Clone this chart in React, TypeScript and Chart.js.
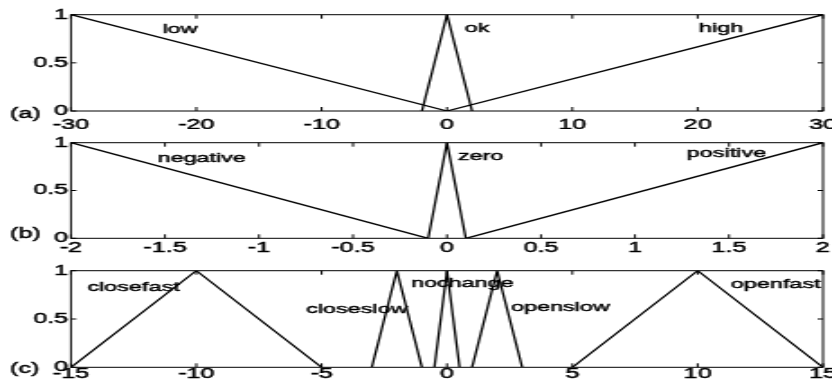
import React, { useEffect, useRef } from 'react';
import { Chart, registerables } from 'chart.js';

Chart.register(...registerables);

// ---------- Panel (a) ----------
const lowX = [-30, 0];
const lowY = [1, 0];
const okX = [-2, 0, 2];
const okY = [0, 1, 0];
const highX = [0, 30];
const highY = [0, 1];
const xTicksA = [-30, -20, -10, 0, 10, 20, 30];
const namesA = ['low', 'ok', 'high'];
const nameXA = [-22.7, 1.4, 20.1];
const nameYA = [0.81, 0.82, 0.82];

// ---------- Panel (b) ----------
const negX = [-2, -0.1];
const negY = [1, 0];
const zeroX = [-0.1, 0, 0.1];
const zeroY = [0, 1, 0];
const posX = [0.1, 2];
const posY = [0, 1];
const xTicksB = [-2, -1.5, -1, -0.5, 0, 0.5, 1, 1.5, 2];
const namesB = ['negative', 'zero', 'positive'];
const nameXB = [-1.54, 0.057, 1.275];
const nameYB = [0.8, 0.82, 0.85];

// ---------- Panel (c) ----------
const closeFastX = [-15, -10, -5];
const closeFastY = [0, 1, 0];
const closeSlowX = [-3, -2, -1];
const closeSlowY = [0, 1, 0];
const noChangeX = [-0.5, 0, 0.5];
const noChangeY = [0, 1, 0];
const openSlowX = [1, 2, 3];
const openSlowY = [0, 1, 0];
const openFastX = [5, 10, 15];
const openFastY = [0, 1, 0];
const xTicksC = [-15, -10, -5, 0, 5, 10, 15];
const namesC = ['closefast', 'closeslow', 'nochange', 'openslow', 'openfast'];
const nameXC = [-14.35, -5.62, -1.44, 2.55, 11.32];
const nameYC = [0.79, 0.56, 0.83, 0.58, 0.82];

const yTicks = [0, 0.5, 1];
const panelTags = ['(a)', '(b)', '(c)'];

const FONT = "'Liberation Sans', Arial, Helvetica, sans-serif";
const CANVAS_W = 462;
const CSS_W = 832;
const CANVAS_H = 136;

type Series = { x: number[]; y: number[] };
type Panel = {
  tag: string;
  series: Series[];
  ticks: number[];
  names: string[];
  nameX: number[];
  nameY: number[];
  top: number;
  padBottom: number;
  xPad: number;
  tagOffset: number;
};

const panels: Panel[] = [
  {
    tag: panelTags[0],
    series: [
      { x: lowX, y: lowY },
      { x: okX, y: okY },
      { x: highX, y: highY },
    ],
    ticks: xTicksA,
    names: namesA,
    nameX: nameXA,
    nameY: nameYA,
    top: 0,
    padBottom: 7,
    xPad: 5.6,
    tagOffset: 3,
  },
  {
    tag: panelTags[1],
    series: [
      { x: negX, y: negY },
      { x: zeroX, y: zeroY },
      { x: posX, y: posY },
    ],
    ticks: xTicksB,
    names: namesB,
    nameX: nameXB,
    nameY: nameYB,
    top: 128,
    padBottom: 7.7,
    xPad: 1,
    tagOffset: -4,
  },
  {
    tag: panelTags[2],
    series: [
      { x: closeFastX, y: closeFastY },
      { x: closeSlowX, y: closeSlowY },
      { x: noChangeX, y: noChangeY },
      { x: openSlowX, y: openSlowY },
      { x: openFastX, y: openFastY },
    ],
    ticks: xTicksC,
    names: namesC,
    nameX: nameXC,
    nameY: nameYC,
    top: 256,
    padBottom: 6.7,
    xPad: -1.7,
    tagOffset: 2,
  },
];

function makePlugin(p: Panel) {
  return {
    id: 'matlabBox',
    afterDatasetsDraw(chart: any) {
      const { ctx, chartArea } = chart;
      const { left, right, top, bottom } = chartArea;
      const xs = chart.scales.x;
      const ys = chart.scales.y;
      ctx.save();
      ctx.strokeStyle = '#000';
      ctx.lineWidth = 1;
      ctx.strokeRect(left, top, right - left, bottom - top);
      ctx.beginPath();
      xs.ticks.forEach((t: any) => {
        const px = xs.getPixelForValue(t.value);
        ctx.moveTo(px, bottom);
        ctx.lineTo(px, bottom - 4);
        ctx.moveTo(px, top);
        ctx.lineTo(px, top + 4);
      });
      ys.ticks.forEach((t: any) => {
        const py = ys.getPixelForValue(t.value);
        ctx.moveTo(left, py);
        ctx.lineTo(left + 3, py);
        ctx.moveTo(right, py);
        ctx.lineTo(right - 3, py);
      });
      ctx.stroke();

      ctx.fillStyle = '#000';
      ctx.lineWidth = 0.45;
      ctx.font = `13px ${FONT}`;
      ctx.textAlign = 'left';
      ctx.textBaseline = 'alphabetic';
      p.names.forEach((n, i) => {
        const px = xs.getPixelForValue(p.nameX[i]);
        const py = ys.getPixelForValue(p.nameY[i]);
        ctx.fillText(n, px, py);
        ctx.strokeText(n, px, py);
      });

      ctx.font = `14px ${FONT}`;
      ctx.textBaseline = 'middle';
      ctx.fillText(p.tag, 5.6, bottom + p.tagOffset);
      ctx.strokeText(p.tag, 5.6, bottom + p.tagOffset);
      ctx.restore();
    },
  };
}

function makeConfig(p: Panel): any {
  const last = p.ticks.length - 1;
  return {
    type: 'line',
    data: {
      datasets: p.series.map((s) => ({
        data: s.x.map((v, i) => ({ x: v, y: s.y[i] })),
        borderColor: '#000',
        borderWidth: 1.3,
        pointRadius: 0,
        fill: false,
        tension: 0,
      })),
    },
    options: {
      animation: false,
      responsive: false,
      devicePixelRatio: 1,
      events: [],
      layout: { padding: { left: 0, right: CANVAS_W - 457, top: 14.7, bottom: p.padBottom } },
      plugins: { legend: { display: false }, tooltip: { enabled: false } },
      scales: {
        x: {
          type: 'linear',
          min: p.ticks[0],
          max: p.ticks[last],
          grid: { display: false, drawTicks: false },
          border: { display: false },
          afterBuildTicks: (s: any) => {
            s.ticks = p.ticks.map((v) => ({ value: v }));
          },
          afterFit: (s: any) => {
            s.height = 18;
            s.paddingLeft = 0;
            s.paddingRight = 0;
          },
          ticks: {
            color: '#000',
            font: { family: FONT, size: 14 },
            padding: p.xPad,
            maxRotation: 0,
            minRotation: 0,
            autoSkip: false,
            textStrokeColor: '#000',
            textStrokeWidth: 0.45,
            callback: (v: any) => String(v),
          },
        },
        y: {
          type: 'linear',
          min: 0,
          max: 1,
          grid: { display: false, drawTicks: false },
          border: { display: false },
          afterBuildTicks: (s: any) => {
            s.ticks = yTicks.map((v) => ({ value: v }));
          },
          afterFit: (s: any) => {
            s.width = 39.4;
            s.paddingTop = 0;
            s.paddingBottom = 0;
          },
          ticks: {
            color: '#000',
            font: { family: FONT, size: 14 },
            padding: 1.5,
            textStrokeColor: '#000',
            textStrokeWidth: 0.45,
            callback: (v: any) => String(v),
          },
        },
      },
    },
    plugins: [makePlugin(p)],
  };
}

function PanelChart({ p }: { p: Panel }) {
  const ref = useRef<HTMLCanvasElement | null>(null);
  useEffect(() => {
    if (!ref.current) return;
    const chart = new Chart(ref.current, makeConfig(p));
    return () => chart.destroy();
  }, [p]);
  return (
    <canvas
      ref={ref}
      width={CANVAS_W}
      height={CANVAS_H}
      style={{
        position: 'absolute',
        left: 0,
        top: p.top,
        width: CSS_W,
        height: CANVAS_H,
      }}
    />
  );
}

export default function App() {
  return (
    <div
      style={{
        position: 'fixed',
        left: 0,
        top: 0,
        width: CSS_W,
        height: 387,
        overflow: 'hidden',
        background: '#fff',
      }}
    >
      {panels.map((p) => (
        <PanelChart key={p.tag} p={p} />
      ))}
    </div>
  );
}
